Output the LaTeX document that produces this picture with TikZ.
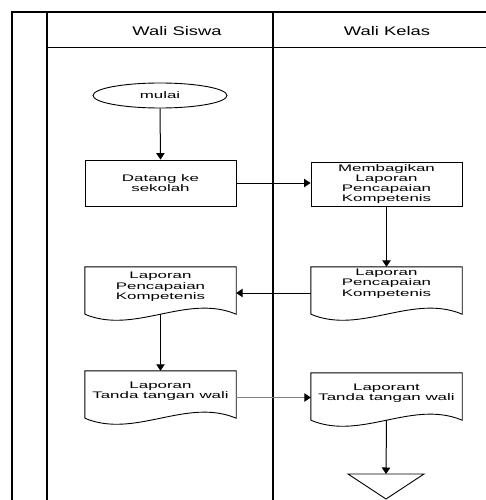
\documentclass[tikz,border=0pt]{standalone}
\usepackage{fontspec}
\setmainfont{Liberation Sans}
\newfontfamily\boxfont[FakeStretch=1.78]{Liberation Sans}
\newfontfamily\hdrfont[FakeStretch=1.47]{Liberation Sans}
\usetikzlibrary{arrows.meta,shapes.geometric}

\begin{document}
\begin{tikzpicture}[x=1pt,y=-1pt,
 frame/.style={line width=1.4pt},
 boxtxt/.style={font=\boxfont\fontsize{9.5}{10.3}\selectfont, align=center, inner sep=0pt},
 hdr/.style={font=\hdrfont\fontsize{12.5}{14}\selectfont, inner sep=0pt},
 proc/.style={draw, line width=0.9pt, minimum width=151pt, inner sep=0pt},
 docbox/.style={minimum width=151pt, minimum height=47pt, inner sep=0pt},
 docline/.style={line width=0.9pt},
 conn/.style={line width=1pt, -{Triangle[width=8.5pt,length=6.5pt,color=black]}}
]
\useasboundingbox[fill=white] (0,0) rectangle (486,500);

% swimlane frame
\draw[frame] (12,500) -- (12,12) -- (486,12);
\draw[frame] (47,12) -- (47,500);
\draw[frame] (273,12) -- (273,500);
\draw[line width=0.9pt] (47,47) -- (486,47);

\node[hdr] (h1) at (177,31) {Wali Siswa};
\node[hdr] (h2) at (387,31) {Wali Kelas};

% start
\node[draw, ellipse, line width=0.9pt, minimum width=134pt, minimum height=25pt, inner sep=0pt, boxtxt] (mulai) at (160,95.5) {mulai};

% process boxes
\node[proc, minimum height=46pt, boxtxt] (datang) at (160.5,183) {Datang ke\\sekolah};
\node[proc, minimum height=44pt, boxtxt] (bagi) at (386.5,184) {Membagikan\\Laporan\\Pencapaian\\Kompetenis};

% document shapes
\node[docbox] (lap1) at (160.5,290.5) {};
\node[docbox] (lap2) at (386.5,290.5) {};
\node[docbox] (ttd1) at (160.5,394.5) {};
\node[docbox] (ttd2) at (386.5,396.5) {};
\foreach \n in {lap1,lap2,ttd1,ttd2}{
  \draw[docline] (\n.south west) -- (\n.north west) -- (\n.north east) -- (\n.south east)
    .. controls +(-50,-21) and +(50,21) .. (\n.south west);
}
\node[boxtxt] (lap1t) at (160.5,287) {Laporan\\Pencapaian\\Kompetenis};
\node[boxtxt] (lap2t) at (386.5,283.5) {Laporan\\Pencapaian\\Kompetenis};
\node[boxtxt] (ttd1t) at (160.5,391.5) {Laporan\\Tanda tangan wali};
\node[boxtxt] (ttd2t) at (386.5,393.5) {Laporant\\Tanda tangan wali};

% end (off-page) triangle
\coordinate (tri) at (386,474);
\draw[docline] (348,474) -- (424,474) -- (386,499) -- cycle;

% connector heights
\coordinate (ya) at (0,293);
\coordinate (yb) at (0,397.5);

% connectors
\draw[conn] (mulai.south) -- (datang.north);
\draw[conn] (datang.east) -- (bagi.west |- datang.east);
\draw[conn] (bagi.south) -- (lap2.north);
\draw[conn] (lap2.west |- ya) -- (lap1.east |- ya);
\draw[conn] (lap1.south) -- (ttd1.north);
\draw[conn, draw=gray] (ttd1.east |- yb) -- (ttd2.west |- yb);
\draw[conn] (ttd2.south) -- (tri);
\end{tikzpicture}
\end{document}
